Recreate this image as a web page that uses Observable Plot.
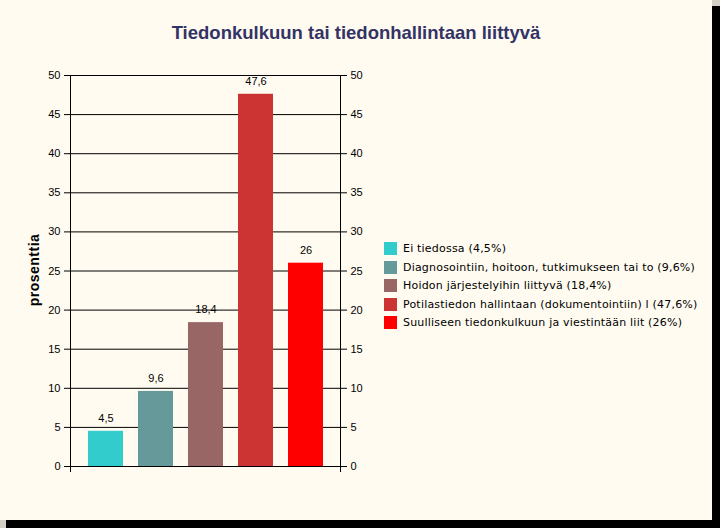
<!DOCTYPE html>
<html>
<head>
<meta charset="utf-8">
<script src="https://cdn.jsdelivr.net/npm/d3@7"></script>
<script src="https://cdn.jsdelivr.net/npm/@observablehq/plot@0.6"></script>
<style>
  html, body { margin: 0; padding: 0; background: #D4D0C8; width: 720px; height: 528px; overflow: hidden; }
  #shadow { position: absolute; left: 6px; top: 6px; width: 714px; height: 522px; background: #000; }
  #panel { position: absolute; left: 0; top: 0; width: 712px; height: 520px; background: #FFFBF0; }
  #title { position: absolute; left: 0; width: 712px; top: 22px; text-align: center; font: bold 18.5px "Liberation Sans", Arial, sans-serif; color: #333366; }
  #ylabel { position: absolute; left: 34px; top: 270px; transform: translate(-50%, -50%) rotate(-90deg); font: bold 14px "Liberation Sans", Arial, sans-serif; letter-spacing: 0.5px; color: #000; white-space: nowrap; }
  #legend { position: absolute; left: 384px; top: 242px; font: 11px "DejaVu Sans", Verdana, sans-serif; letter-spacing: 0.2px; color: #000; }
  .row { position: relative; height: 18.5px; white-space: nowrap; }
  .sw { position: absolute; left: 0; top: 0; width: 13px; height: 13px; }
  .lt { position: absolute; left: 19px; top: -1px; line-height: 15px; }
  #chart { position: absolute; left: 0; top: 0; }
</style>
</head>
<body>
<div id="shadow"></div>
<div id="panel">
  <div id="chart"></div>
  <div id="title"></div>
  <div id="ylabel"></div>
  <div id="legend"></div>
</div>
<script>
const title = "Tiedonkulkuun tai tiedonhallintaan liittyvä";
const yLabel = "prosenttia";
const categories = [
  "Ei tiedossa",
  "Diagnosointiin, hoitoon, tutkimukseen tai to",
  "Hoidon järjestelyihin liittyvä",
  "Potilastiedon hallintaan (dokumentointiin) l",
  "Suulliseen tiedonkulkuun ja viestintään liit"
];
const values = [4.5, 9.6, 18.4, 47.6, 26];
const colors = ["#33CCCC", "#669999", "#996666", "#CC3333", "#FF0000"];
const yTicks = [0, 5, 10, 15, 20, 25, 30, 35, 40, 45, 50];

const fmt = v => String(v).replace(".", ",");
const data = categories.map((c, i) => ({cat: c, value: values[i], color: colors[i]}));

document.getElementById("title").textContent = title;
document.getElementById("ylabel").textContent = yLabel;

const legend = document.getElementById("legend");
data.forEach(d => {
  const row = document.createElement("div");
  row.className = "row";
  const sw = document.createElement("div");
  sw.className = "sw";
  sw.style.background = d.color;
  const t = document.createElement("div");
  t.className = "lt";
  t.textContent = `${d.cat} (${fmt(d.value)}%)`;
  row.appendChild(sw); row.appendChild(t);
  legend.appendChild(row);
});

const W = 712, H = 520;
const mL = 70, mR = 372, mT = 75, mB = 54;

const plot = Plot.plot({
  width: W,
  height: H,
  marginLeft: mL,
  marginRight: mR,
  marginTop: mT,
  marginBottom: mB,
  style: {background: "transparent", fontFamily: "'Liberation Sans', Arial, sans-serif", fontSize: "11px", color: "#000"},
  x: {domain: categories, paddingInner: 0.307, paddingOuter: 0.327, axis: null},
  y: {domain: [0, 50]},
  color: {domain: categories, range: colors},
  marks: [
    Plot.ruleY(yTicks, {stroke: "#000", strokeWidth: 1, strokeOpacity: 1}),
    Plot.barY(data, {x: "cat", y: "value", fill: "color"}),
    Plot.text(data, {x: "cat", y: "value", text: d => fmt(d.value), dy: -13, fill: "#000", fontSize: 11}),
    Plot.axisY({anchor: "left", ticks: yTicks, tickSize: 6, tickPadding: 4, label: null, tickFormat: d => String(d), fontSize: 11}),
    Plot.axisY({anchor: "right", ticks: yTicks, tickSize: 6, tickPadding: 4, label: null, tickFormat: d => String(d), fontSize: 11})
  ]
});
document.getElementById("chart").appendChild(plot);

// axis lines (left/right frame edges), extending below zero like the original
const ys = plot.scale("y");
const svg = d3.select(plot);
const yTop = ys.apply(50), yBot = ys.apply(0) + 6;
[mL, W - mR].forEach(x => {
  svg.append("line")
    .attr("x1", x + 0.5).attr("x2", x + 0.5)
    .attr("y1", yTop).attr("y2", yBot)
    .attr("stroke", "#000").attr("stroke-width", 1);
});
</script>
</body>
</html>
